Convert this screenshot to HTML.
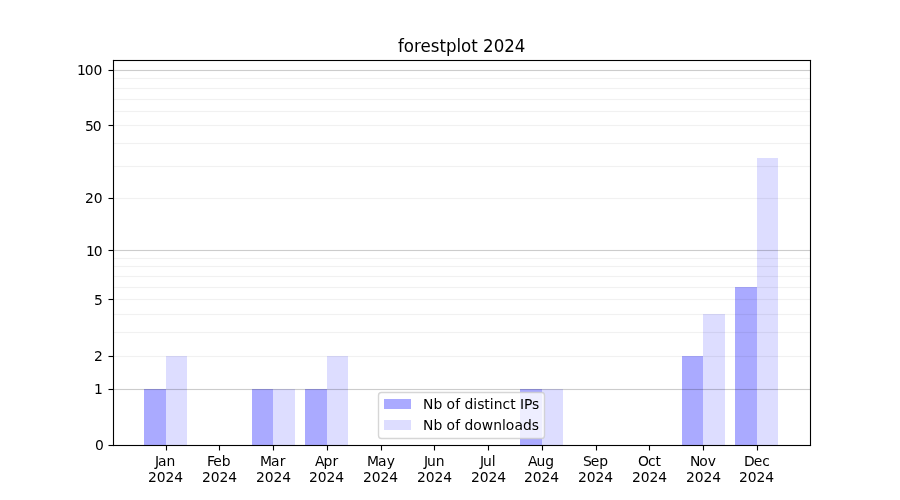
<!DOCTYPE html>
<html lang="en">
<head>
<meta charset="utf-8">
<title>forestplot 2024</title>
<style>
html,body{margin:0;padding:0;background:#fff;}
body{width:900px;height:500px;overflow:hidden;}
svg{display:block;}
text{font-family:"DejaVu Sans","Liberation Sans",sans-serif;font-size:13.889px;fill:#000;}
.t{font-size:16.667px;}
.m{text-anchor:middle;}
.e{text-anchor:end;}
.sp{stroke:#000;stroke-width:1.111;fill:none;}
.g1{fill:#000;fill-opacity:0.055;}
.g2{fill:#000;fill-opacity:0.2;}
.b1{fill:#00f;fill-opacity:0.3333;}
.b2{fill:#00f;fill-opacity:0.133;}
</style>
</head>
<body>
<svg width="900" height="500" viewBox="0 0 900 500">
<rect x="0" y="0" width="900" height="500" fill="#fff"/>
<g id="bars">
<rect class="b1" x="144" y="389" width="22" height="56"/>
<rect class="b2" x="166" y="356" width="21" height="89"/>
<rect class="b1" x="252" y="389" width="21" height="56"/>
<rect class="b2" x="273" y="389" width="22" height="56"/>
<rect class="b1" x="305" y="389" width="22" height="56"/>
<rect class="b2" x="327" y="356" width="21" height="89"/>
<rect class="b1" x="520" y="389" width="22" height="56"/>
<rect class="b2" x="542" y="389" width="21" height="56"/>
<rect class="b1" x="682" y="356" width="21" height="89"/>
<rect class="b2" x="703" y="314" width="22" height="131"/>
<rect class="b1" x="735" y="287" width="22" height="158"/>
<rect class="b2" x="757" y="158" width="21" height="287"/>
</g>
<g id="grid">
<rect class="g1" x="113" y="355.925" width="697" height="1.15"/>
<rect class="g1" x="113" y="331.925" width="697" height="1.15"/>
<rect class="g1" x="113" y="313.925" width="697" height="1.15"/>
<rect class="g1" x="113" y="298.925" width="697" height="1.15"/>
<rect class="g1" x="113" y="286.925" width="697" height="1.15"/>
<rect class="g1" x="113" y="275.925" width="697" height="1.15"/>
<rect class="g1" x="113" y="265.925" width="697" height="1.15"/>
<rect class="g1" x="113" y="257.925" width="697" height="1.15"/>
<rect class="g1" x="113" y="197.925" width="697" height="1.15"/>
<rect class="g1" x="113" y="165.925" width="697" height="1.15"/>
<rect class="g1" x="113" y="142.925" width="697" height="1.15"/>
<rect class="g1" x="113" y="124.925" width="697" height="1.15"/>
<rect class="g1" x="113" y="110.925" width="697" height="1.15"/>
<rect class="g1" x="113" y="98.925" width="697" height="1.15"/>
<rect class="g1" x="113" y="87.925" width="697" height="1.15"/>
<rect class="g1" x="113" y="77.925" width="697" height="1.15"/>
<rect class="g2" x="113" y="388.925" width="697" height="1.15"/>
<rect class="g2" x="113" y="249.925" width="697" height="1.15"/>
<rect class="g2" x="113" y="69.925" width="697" height="1.15"/>
</g>
<g id="xaxis">
<rect x="165.945" y="445.5" width="1.111" height="5"/>
<text x="154.875 157.875 166.375" y="466">Jan</text><text x="147.875 156.625 165.375 174.125" y="482">2024</text>
<rect x="218.945" y="445.5" width="1.111" height="5"/>
<text x="206.875 213.125 221.625" y="466">Feb</text><text x="201.875 210.625 219.375 228.125" y="482">2024</text>
<rect x="272.945" y="445.5" width="1.111" height="5"/>
<text x="259.875 270.875 279.625" y="466">Mar</text><text x="255.875 264.625 273.5 282.25" y="482">2024</text>
<rect x="326.945" y="445.5" width="1.111" height="5"/>
<text x="314.875 323.375 332.375" y="466">Apr</text><text x="308.875 317.625 326.5 335.25" y="482">2024</text>
<rect x="380.945" y="445.5" width="1.111" height="5"/>
<text x="366.875 378 386.625" y="466">May</text><text x="362.875 371.625 380.5 389.25" y="482">2024</text>
<rect x="433.945" y="445.5" width="1.111" height="5"/>
<text x="423.875 426.875 435.625" y="466">Jun</text><text x="416.875 425.625 434.375 443.125" y="482">2024</text>
<rect x="487.945" y="445.5" width="1.111" height="5"/>
<text x="479.875 482.875 491.625" y="466">Jul</text><text x="470.875 479.625 488.375 497.125" y="482">2024</text>
<rect x="541.944" y="445.5" width="1.111" height="5"/>
<text x="527.875 536.375 545.125" y="466">Aug</text><text x="523.875 532.625 541.375 550.125" y="482">2024</text>
<rect x="595.944" y="445.5" width="1.111" height="5"/>
<text x="582.875 590.625 599.125" y="466">Sep</text><text x="577.875 586.625 595.375 604.125" y="482">2024</text>
<rect x="648.944" y="445.5" width="1.111" height="5"/>
<text x="638 647.875 655.375" y="466">Oct</text><text x="631.875 640.625 649.375 658.125" y="482">2024</text>
<rect x="702.944" y="445.5" width="1.111" height="5"/>
<text x="689.875 699.125 707.625" y="466">Nov</text><text x="685.875 694.625 703.5 712.125" y="482">2024</text>
<rect x="756.944" y="445.5" width="1.111" height="5"/>
<text x="743.875 753.625 762.125" y="466">Dec</text><text x="738.875 747.625 756.375 765.125" y="482">2024</text>
</g>
<g id="yaxis">
<rect x="108.5" y="444.945" width="5" height="1.111"/>
<text x="94.875" y="450">0</text>
<rect x="108.5" y="388.945" width="5" height="1.111"/>
<text x="93.875" y="394">1</text>
<rect x="108.5" y="355.945" width="5" height="1.111"/>
<text x="93.875" y="361">2</text>
<rect x="108.5" y="298.945" width="5" height="1.111"/>
<text x="93.875" y="305">5</text>
<rect x="108.5" y="249.945" width="5" height="1.111"/>
<text x="85.875 93.75" y="256">10</text>
<rect x="108.5" y="197.945" width="5" height="1.111"/>
<text x="84.875 93.625" y="203">20</text>
<rect x="108.5" y="124.945" width="5" height="1.111"/>
<text x="84.875 92.625" y="131">50</text>
<rect x="108.5" y="69.945" width="5" height="1.111"/>
<text x="76.875 84.75 93.375" y="75">100</text>
</g>
<g fill="#000"><rect x="112.944" y="59.944" width="1.111" height="386.111"/><rect x="809.944" y="59.944" width="1.111" height="386.111"/><rect x="112.944" y="444.944" width="698.111" height="1.111"/><rect x="112.944" y="59.944" width="698.111" height="1.111"/></g>
<g transform="translate(0,52) scale(1,1.1)"><text class="t" x="398 403.875 414 420.5 430.75 439.5 446 456.5 461.125 471.25 477.75 483 493.75 504.25 514.75" y="0">forestplot 2024</text></g>
<g id="legend">
<rect x="378.5" y="392.5" width="166" height="46" rx="3.0" ry="3.0" fill="#fff" fill-opacity="0.8" stroke="#ccc" stroke-opacity="0.8" stroke-width="1.389"/>
<rect class="b1" x="384" y="399" width="27" height="10"/>
<text x="422.875 433.375 442.25 446.375 455.125 460.125 464.375 473.25 477.125 484.25 489.75 493.625 502.375 510.125 515.625 519.875 523.875 532" y="409">Nb of distinct IPs</text>
<rect class="b2" x="384" y="420" width="27" height="10"/>
<text x="422.875 433.375 442.25 446.375 455.125 460.125 464.375 473.125 481.75 493.125 502 505.625 514.375 522.875 531.625" y="430">Nb of downloads</text>
</g>
</svg>
</body>
</html>
